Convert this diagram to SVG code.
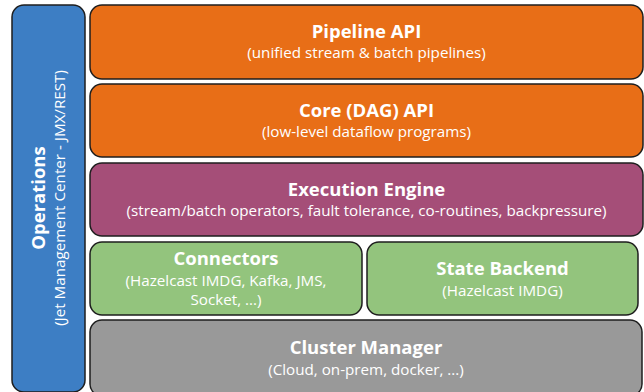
<svg xmlns="http://www.w3.org/2000/svg" width="644" height="392" viewBox="0 0 644 392">
<style>
.box{stroke:#1e1e1e;stroke-width:1.5}
.t{font-family:"Open Sans","Liberation Sans",sans-serif;font-weight:bold;font-size:18.5px;fill:#fff;text-anchor:middle}
.s{font-family:"Open Sans","Liberation Sans",sans-serif;font-size:15.2px;fill:#fff;text-anchor:middle}
</style>
<rect width="644" height="392" fill="#fff"/>
<g id="operations">
<rect class="box" x="12" y="5" width="73" height="387" rx="12" fill="#3d7ec4"/>
<text class="t" transform="translate(45,198) rotate(-90)">Operations</text>
<text class="s" transform="translate(65,198) rotate(-90)">(Jet Management Center - JMX/REST)</text>
</g>
<g id="pipeline-api">
<rect class="box" x="90" y="5" width="553" height="74" rx="12" fill="#e86e17"/>
<text class="t" x="366.5" y="38">Pipeline API</text>
<text class="s" x="366.5" y="58">(unified stream &amp; batch pipelines)</text>
</g>
<g id="core-api">
<rect class="box" x="90" y="84" width="553" height="73" rx="12" fill="#e86e17"/>
<text class="t" x="366.5" y="117">Core (DAG) API</text>
<text class="s" x="366.5" y="137">(low-level dataflow programs)</text>
</g>
<g id="execution-engine">
<rect class="box" x="90" y="163" width="553" height="73" rx="12" fill="#a54e78"/>
<text class="t" x="366.5" y="196">Execution Engine</text>
<text class="s" x="366.5" y="216">(stream/batch operators, fault tolerance, co-routines, backpressure)</text>
</g>
<g id="connectors">
<rect class="box" x="90" y="242" width="272" height="73" rx="12" fill="#93c47d"/>
<text class="t" x="226" y="265">Connectors</text>
<text class="s" x="226" y="286">(Hazelcast IMDG, Kafka, JMS,</text>
<text class="s" x="226" y="305">Socket, ...)</text>
</g>
<g id="state-backend">
<rect class="box" x="367" y="242" width="271" height="73" rx="12" fill="#93c47d"/>
<text class="t" x="502.5" y="275">State Backend</text>
<text class="s" x="502.5" y="296">(Hazelcast IMDG)</text>
</g>
<g id="cluster-manager">
<rect class="box" x="90" y="320" width="552" height="76" rx="12" fill="#999999"/>
<text class="t" x="366" y="354">Cluster Manager</text>
<text class="s" x="366" y="375">(Cloud, on-prem, docker, ...)</text>
</g>
<g id="connectors-lines"></g>
</svg>
